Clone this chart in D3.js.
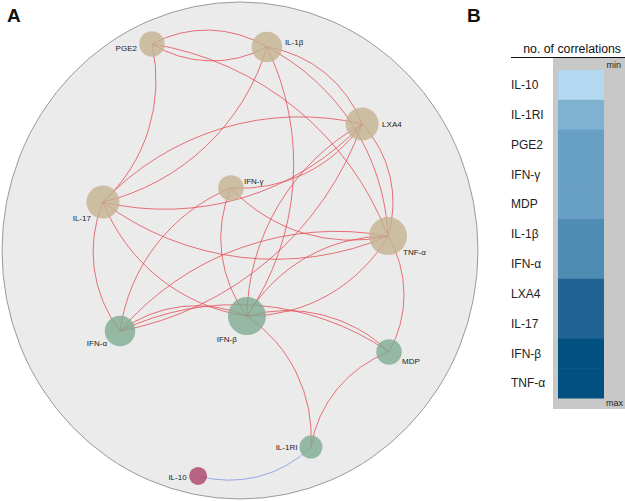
<!DOCTYPE html>
<html>
<head>
<meta charset="utf-8">
<script src="https://cdn.jsdelivr.net/npm/d3@7/dist/d3.min.js"></script>
<style>
  html, body { margin: 0; padding: 0; background: #fff; }
  svg { display: block; font-family: "Liberation Sans", Arial, Helvetica, sans-serif; }
</style>
</head>
<body>
<svg id="chart" width="625" height="501"></svg>
<script>
// ---------------- DATA ----------------
const nodeNames = ["PGE2", "IL-1β", "LXA4", "TNF-α", "IFN-γ", "IL-17", "IFN-α", "IFN-β", "MDP", "IL-1RI", "IL-10"];
// layout coordinates inside the unit disc (-1..1)
const nodeU = [-0.370, 0.113, 0.513, 0.622, -0.038, -0.576, -0.504, 0.029, 0.626, 0.298, -0.176];
const nodeV = [-0.831, -0.819, -0.509, -0.058, -0.252, -0.195, 0.324, 0.264, 0.408, 0.791, 0.907];
const nodeGroup = ["lipid/cytokine", "lipid/cytokine", "lipid/cytokine", "lipid/cytokine", "lipid/cytokine", "lipid/cytokine",
                   "innate", "innate", "innate", "innate", "anti"];
// correlations: [source, target, sign]
const links = [
  ["IL-1RI", "IL-10", -1],
  ["IFN-β", "IL-1RI", 1],
  ["IL-1RI", "MDP", 1],
  ["TNF-α", "MDP", 1],
  ["IFN-β", "MDP", 1],
  ["IFN-α", "MDP", 1],
  ["PGE2", "IL-1β", 1],
  ["IL-1β", "PGE2", 1],
  ["PGE2", "IL-17", 1],
  ["PGE2", "TNF-α", 1],
  ["IL-1β", "IL-17", 1],
  ["IL-1β", "IFN-β", 1],
  ["IL-1β", "TNF-α", 1],
  ["IL-1β", "LXA4", 1],
  ["IFN-α", "IL-17", 1],
  ["IFN-α", "IFN-β", 1],
  ["IFN-α", "TNF-α", 1],
  ["LXA4", "IFN-α", 1],
  ["IFN-α", "IFN-γ", 1],
  ["TNF-α", "IFN-γ", 1],
  ["LXA4", "IFN-γ", 1],
  ["IFN-β", "IFN-γ", 1],
  ["LXA4", "TNF-α", 1],
  ["IFN-β", "LXA4", 1],
  ["LXA4", "IL-17", 1],
  ["IL-17", "LXA4", 1],
  ["IFN-β", "IL-17", 1],
  ["TNF-α", "IL-17", 1],
  ["IFN-β", "TNF-α", 1],
  ["TNF-α", "IFN-β", 1]
];
const panelBOrder = ["IL-10", "IL-1RI", "PGE2", "IFN-γ", "MDP", "IL-1β", "IFN-α", "LXA4", "IL-17", "IFN-β", "TNF-α"];

// ---------------- LAYOUT / STYLE ----------------
const labelPlace = {
  "PGE2":   { dx: -15,  dy: 7,    anchor: "end" },
  "IL-1β":  { dx: 18,   dy: -1.5, anchor: "start" },
  "LXA4":   { dx: 20,   dy: 3,    anchor: "start" },
  "TNF-α":  { dx: 15,   dy: 19,   anchor: "start" },
  "IFN-γ":  { dx: 13,   dy: -4,   anchor: "start" },
  "IL-17":  { dx: -12,  dy: 19,   anchor: "end" },
  "IFN-α":  { dx: -13,  dy: 15,   anchor: "end" },
  "IFN-β":  { dx: -10,  dy: 25.5, anchor: "end" },
  "MDP":    { dx: 13,   dy: 12,   anchor: "start" },
  "IL-1RI": { dx: -13.5,dy: 2.5,  anchor: "end" },
  "IL-10":  { dx: -11.5,dy: 4,    anchor: "end" }
};
const groupColor = d3.scaleOrdinal()
  .domain(["lipid/cytokine", "innate", "anti"])
  .range(["#c3b391", "#7eab91", "#ab406a"]);

const svg = d3.select("#chart");
const disc = { cx: 240, cy: 250.5, rx: 238, ry: 248.5 };

const x = d3.scaleLinear().domain([-1, 1]).range([disc.cx - disc.rx, disc.cx + disc.rx]);
const y = d3.scaleLinear().domain([-1, 1]).range([disc.cy - disc.ry, disc.cy + disc.ry]);

// degree = number of correlations
const degree = {};
nodeNames.forEach(n => degree[n] = 0);
links.forEach(([s, t]) => { degree[s]++; degree[t]++; });

const nodes = nodeNames.map((n, i) => ({ name: n, u: nodeU[i], v: nodeV[i], group: nodeGroup[i], count: degree[n] }));
const byName = {};
nodes.forEach(d => byName[d.name] = d);

const r = d3.scaleLinear().domain([1, 9]).range([9, 19]);

// ---------------- PANEL A ----------------
const gA = svg.append("g");
gA.append("ellipse")
  .attr("cx", disc.cx).attr("cy", disc.cy).attr("rx", disc.rx).attr("ry", disc.ry)
  .attr("fill", "#ebebeb").attr("stroke", "#9a9a9a").attr("stroke-width", 1);

gA.append("g").selectAll("path").data(links).join("path")
  .attr("d", ([s, t]) => {
    const a = byName[s], b = byName[t];
    const x1 = x(a.u), y1 = y(a.v), x2 = x(b.u), y2 = y(b.v);
    const dr = Math.hypot(x2 - x1, y2 - y1);
    return `M${x1},${y1}A${dr},${dr} 0 0,1 ${x2},${y2}`;
  })
  .attr("fill", "none")
  .attr("stroke", d => d[2] > 0 ? "#e4474f" : "#7d8fe8")
  .attr("stroke-width", 0.85)
  .attr("stroke-opacity", 0.9);

gA.append("g").selectAll("circle").data(nodes).join("circle")
  .attr("cx", d => x(d.u)).attr("cy", d => y(d.v))
  .attr("r", d => r(d.count))
  .attr("fill", d => groupColor(d.group))
  .attr("fill-opacity", 0.8);

gA.append("g").selectAll("text").data(nodes).join("text")
  .attr("x", d => x(d.u) + labelPlace[d.name].dx)
  .attr("y", d => y(d.v) + labelPlace[d.name].dy)
  .attr("text-anchor", d => labelPlace[d.name].anchor)
  .attr("font-size", 8)
  .attr("fill", "#222")
  .text(d => d.name);

svg.append("text").attr("x", 7).attr("y", 22).attr("font-size", 19).attr("font-weight", "bold").attr("fill", "#111").text("A");
svg.append("text").attr("x", 467).attr("y", 22).attr("font-size", 19).attr("font-weight", "bold").attr("fill", "#111").text("B");

// ---------------- PANEL B ----------------
const gB = svg.append("g");
const band = d3.scaleBand().domain(panelBOrder).range([70, 398]);
const countColor = d3.scaleOrdinal()
  .domain([1, 3, 4, 6, 7, 9])
  .range(["#b3d8ef", "#7fb1d1", "#67a0c4", "#4f8cb3", "#1f6493", "#025080"]);

gB.append("rect").attr("x", 553).attr("y", 57.5).attr("width", 72).attr("height", 351.5).attr("fill", "#c8c8c8");
gB.append("text").attr("x", 621).attr("y", 53).attr("text-anchor", "end").attr("font-size", 12.3).attr("fill", "#111").text("no. of correlations");
gB.append("line").attr("x1", 511).attr("x2", 625).attr("y1", 57.5).attr("y2", 57.5).attr("stroke", "#111").attr("stroke-width", 1);

gB.append("g").selectAll("rect").data(panelBOrder).join("rect")
  .attr("x", 558).attr("width", 46)
  .attr("y", d => band(d)).attr("height", band.bandwidth() + 0.5)
  .attr("fill", d => countColor(degree[d]));

gB.append("g").selectAll("text").data(panelBOrder).join("text")
  .attr("x", 511)
  .attr("y", d => band(d) + band.bandwidth() / 2 + 4.3)
  .attr("font-size", 12)
  .attr("fill", "#222")
  .text(d => d);

gB.append("text").attr("x", 621).attr("y", 68).attr("text-anchor", "end").attr("font-size", 9).attr("fill", "#222").text("min");
gB.append("text").attr("x", 623).attr("y", 406).attr("text-anchor", "end").attr("font-size", 9).attr("fill", "#222").text("max");
</script>
</body>
</html>
